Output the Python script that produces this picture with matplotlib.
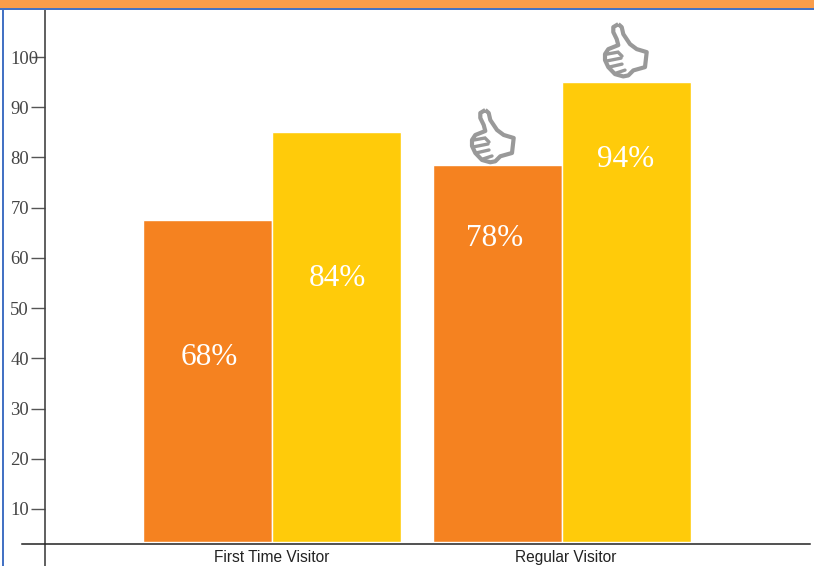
import matplotlib
matplotlib.use("Agg")
import matplotlib.pyplot as plt
from matplotlib.patches import PathPatch, Rectangle
from matplotlib.path import Path
from matplotlib.transforms import Affine2D, ScaledTranslation

categories = ["First Time Visitor", "Regular Visitor"]
series_a = [67.6, 78.5]
series_b = [85.1, 95.0]
labels_a = ["68%", "78%"]
labels_b = ["84%", "94%"]
label_y_a = [40.1, 63.8]
label_y_b = [55.8, 79.6]
label_dx_a = [0.006, -0.008]
label_dx_b = [0.002, 0.0]
y_ticks = [10, 20, 30, 40, 50, 60, 70, 80, 90, 100]

ORANGE = "#F58220"
YELLOW = "#FFCB0A"
GREY = "#999999"
W, H = 814, 566
BASE = 3.4

# thumb outline in pixels, origin is the middle of the bar top
THUMB = [(-7.7, 58), (-12.7, 55), (-12.7, 50), (-9.3, 43), (-7.7, 37), (-17.7, 33), (-21, 28),
         (-21, 22), (-17.7, 15), (-11, 8), (-2.7, 5.7), (2.3, 6.7), (7.3, 11.7), (19, 15),
         (20.7, 30), (10.7, 33), (4, 38), (-2.7, 48), (-4.3, 55), (-7.7, 58)]
FINGERS = [[(-19, 28), (-8, 30), (-4, 26)], [(-20, 21), (-5, 24)],
           [(-17, 15), (-4, 18)], [(-10, 9), (-1, 12)]]

fig = plt.figure(figsize=(W / 100, H / 100), dpi=100)
ax = fig.add_axes([45 / W, 1 - 544 / H, 765 / W, 534 / H])

# page furniture
fig.add_artist(Rectangle((0, 1 - 7.5 / H), 1, 7.5 / H, transform=fig.transFigure, color="#F99D4B", lw=0))
fig.add_artist(Rectangle((0, 1 - 10 / H), 1, 1.6 / H, transform=fig.transFigure, color="#4472C4", lw=0))
fig.add_artist(Rectangle((2 / W, 0), 1.6 / W, 1 - 9 / H, transform=fig.transFigure, color="#4472C4", lw=0))

x0 = -227 / 289.5
ax.set_xlim(x0, x0 + 765 / 289.5)
ax.set_ylim(3.03, 109.36)

bar_w = 129 / 289.5
for i, cat in enumerate(categories):
    ax.bar(i - bar_w / 2, series_a[i] - BASE, bottom=BASE, width=bar_w, color=ORANGE, edgecolor="white", linewidth=1)
    ax.bar(i + bar_w / 2, series_b[i] - BASE, bottom=BASE, width=bar_w, color=YELLOW, edgecolor="white", linewidth=1)
    ax.text(i - bar_w / 2 + label_dx_a[i], label_y_a[i], labels_a[i], color="white", ha="center", va="center",
            family="Liberation Serif", fontsize=22.5)
    ax.text(i + bar_w / 2 + label_dx_b[i], label_y_b[i], labels_b[i], color="white", ha="center", va="center",
            family="Liberation Serif", fontsize=22.5)

# thumbs on the two regular visitor bars
for cx, top, dx, dy in [(1 - bar_w / 2, series_a[1], -4, -3), (1 + bar_w / 2, series_b[1], 0, 0)]:
    tr = (Affine2D().translate(dx, dy).scale(0.01) + fig.dpi_scale_trans
          + ScaledTranslation(cx, top, ax.transData))
    ax.add_patch(PathPatch(Path(THUMB), fc="white", ec=GREY, lw=3, transform=tr, clip_on=False, joinstyle="round"))
    for seg in FINGERS:
        ax.add_patch(PathPatch(Path(seg), fc="none", ec=GREY, lw=2.4, transform=tr, clip_on=False, capstyle="round"))

for s in ax.spines.values():
    s.set_visible(False)
ax.axvline(x0, ymin=-22 / 534, ymax=1, color="#444444", lw=1.2, clip_on=False)
ax.axhline(3.03, xmin=-23 / 765, xmax=1, color="#222222", lw=1.1, clip_on=False)

ax.set_yticks(y_ticks)
ax.set_yticklabels([str(t) for t in y_ticks], family="Liberation Serif", fontsize=13.4, color="#444444", ha="left")
ax.tick_params(axis="y", length=10, width=1, color="#555555", pad=15)
ax.set_xticks([0, 1.013])
ax.set_xticklabels(categories, family="Liberation Sans", fontsize=11.2, color="#222222")
ax.tick_params(axis="x", length=0, pad=4)

fig.savefig("out.png", dpi=100)
